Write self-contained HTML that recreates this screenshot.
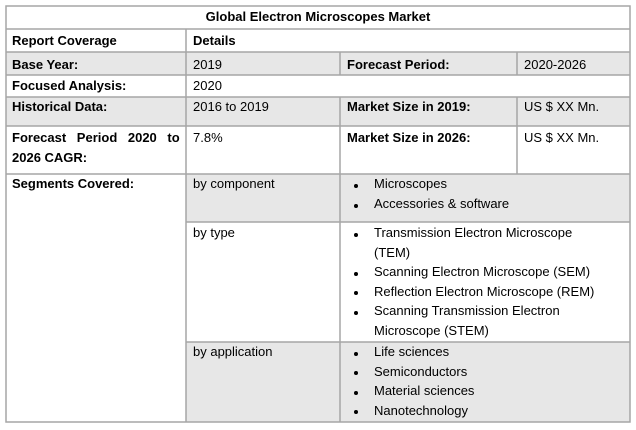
<!DOCTYPE html>
<html><head><style>
body{margin:0;width:636px;height:430px;background:#fff;position:relative;overflow:hidden;font-family:"Liberation Sans",Arial,sans-serif;font-size:13px;color:#000}
.t{position:absolute;white-space:nowrap;line-height:19.5px}
.b{font-weight:bold}
svg{position:absolute;left:0;top:0}
.bl{position:absolute;width:4px;height:4px;border-radius:50%;background:#000}
</style></head><body>
<svg width="636" height="430">
<g fill="#e7e7e7">
<rect x="6" y="52" width="624" height="23"/>
<rect x="6" y="97" width="624" height="29"/>
<rect x="186" y="174" width="444" height="48"/>
<rect x="186" y="342" width="444" height="80"/>
</g>
<g stroke="#a6a6a6" stroke-width="1.5" fill="none">
<rect x="6" y="6" width="624" height="416"/>
<line x1="6" y1="29" x2="630" y2="29"/>
<line x1="6" y1="52" x2="630" y2="52"/>
<line x1="6" y1="75" x2="630" y2="75"/>
<line x1="6" y1="97" x2="630" y2="97"/>
<line x1="6" y1="126" x2="630" y2="126"/>
<line x1="6" y1="174" x2="630" y2="174"/>
<line x1="186" y1="222" x2="630" y2="222"/>
<line x1="186" y1="342" x2="630" y2="342"/>
<line x1="186" y1="29" x2="186" y2="422"/>
<line x1="340" y1="52" x2="340" y2="75"/>
<line x1="517" y1="52" x2="517" y2="75"/>
<line x1="340" y1="97" x2="340" y2="174"/>
<line x1="517" y1="97" x2="517" y2="174"/>
<line x1="340" y1="174" x2="340" y2="422"/>
</g>
</svg>
<div class="t b" style="left:0;width:636px;text-align:center;top:7px">Global Electron Microscopes Market</div>
<div class="t b" style="left:12px;top:31px">Report Coverage</div>
<div class="t b" style="left:193px;top:31px">Details</div>
<div class="t b" style="left:12px;top:55px">Base Year:</div>
<div class="t" style="left:193px;top:55px">2019</div>
<div class="t b" style="left:347px;top:55px">Forecast Period:</div>
<div class="t" style="left:524px;top:55px">2020-2026</div>
<div class="t b" style="left:12px;top:76px">Focused Analysis:</div>
<div class="t" style="left:193px;top:76px">2020</div>
<div class="t b" style="left:12px;top:97px">Historical Data:</div>
<div class="t" style="left:193px;top:97px">2016 to 2019</div>
<div class="t b" style="left:347px;top:97px">Market Size in 2019:</div>
<div class="t" style="left:524px;top:97px">US $ XX Mn.</div>
<div class="t b" style="left:12px;top:128px;word-spacing:7px">Forecast Period 2020 to</div>
<div class="t b" style="left:12px;top:147.5px">2026 CAGR:</div>
<div class="t" style="left:193px;top:128px">7.8%</div>
<div class="t b" style="left:347px;top:128px">Market Size in 2026:</div>
<div class="t" style="left:524px;top:128px">US $ XX Mn.</div>
<div class="t b" style="left:12px;top:174px">Segments Covered:</div>
<div class="t" style="left:193px;top:174px">by component</div>
<div class="t" style="left:193px;top:223px">by type</div>
<div class="t" style="left:193px;top:342px">by application</div>
<div class="t" style="left:374px;top:174px">Microscopes</div>
<div class="t" style="left:374px;top:194px">Accessories &amp; software</div>
<div class="t" style="left:374px;top:223px">Transmission Electron Microscope</div>
<div class="t" style="left:374px;top:242.5px">(TEM)</div>
<div class="t" style="left:374px;top:262px">Scanning Electron Microscope (SEM)</div>
<div class="t" style="left:374px;top:281.5px">Reflection Electron Microscope (REM)</div>
<div class="t" style="left:374px;top:301px">Scanning Transmission Electron</div>
<div class="t" style="left:374px;top:320.5px">Microscope (STEM)</div>
<div class="t" style="left:374px;top:342px">Life sciences</div>
<div class="t" style="left:374px;top:361.5px">Semiconductors</div>
<div class="t" style="left:374px;top:381px">Material sciences</div>
<div class="t" style="left:374px;top:400.5px">Nanotechnology</div>
<div class="bl" style="left:354px;top:184px"></div>
<div class="bl" style="left:354px;top:204px"></div>
<div class="bl" style="left:354px;top:233px"></div>
<div class="bl" style="left:354px;top:272px"></div>
<div class="bl" style="left:354px;top:291px"></div>
<div class="bl" style="left:354px;top:311px"></div>
<div class="bl" style="left:354px;top:352px"></div>
<div class="bl" style="left:354px;top:371px"></div>
<div class="bl" style="left:354px;top:391px"></div>
<div class="bl" style="left:354px;top:410px"></div>
</body></html>
